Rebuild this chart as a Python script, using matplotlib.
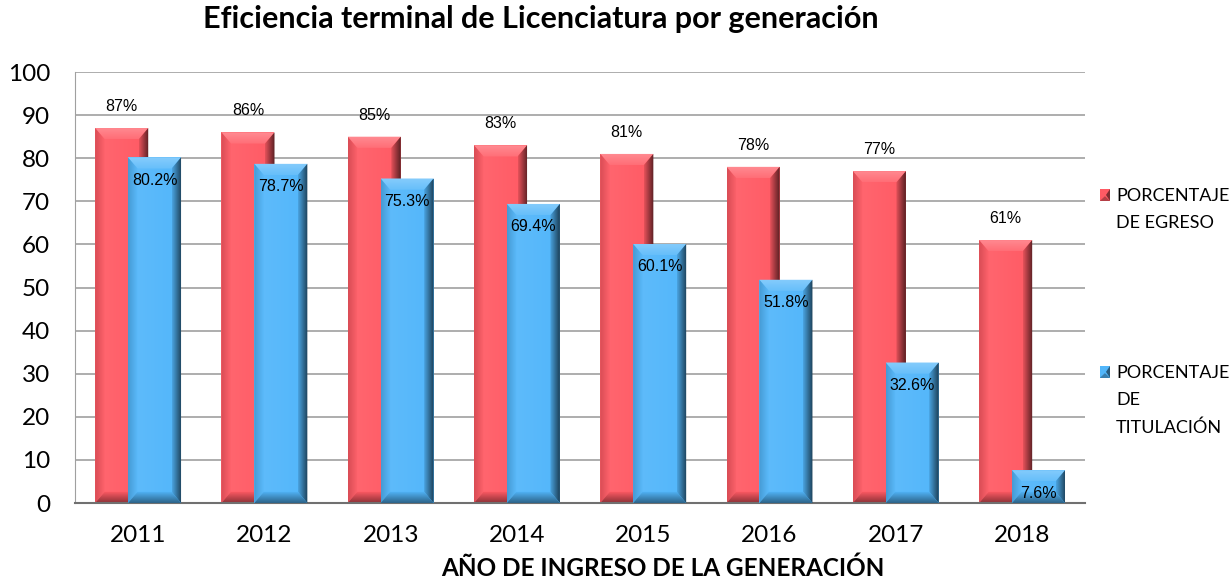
import numpy as np
import matplotlib.pyplot as plt
from matplotlib.colors import LinearSegmentedColormap, to_rgb
from matplotlib.patches import Polygon

years = ['2011', '2012', '2013', '2014', '2015', '2016', '2017', '2018']
egreso = [87, 86, 85, 83, 81, 78, 77, 61]
titulacion = [80.2, 78.7, 75.3, 69.4, 60.1, 51.8, 32.6, 7.6]
egreso_labels = ['87%', '86%', '85%', '83%', '81%', '78%', '77%', '61%']
titulacion_labels = ['80.2%', '78.7%', '75.3%', '69.4%', '60.1%', '51.8%', '32.6%', '7.6%']

red = '#FF5A64'
blue = '#52B6FA'


def mix(c, other, t):
    c = np.array(to_rgb(c))
    o = np.array(to_rgb(other))
    return tuple(c * (1 - t) + o * t)


def grad_patch(ax, poly, extent, c0, c1, vertical, z):
    # gradient from c0 to c1 (left->right or bottom->top), clipped to polygon
    cmap = LinearSegmentedColormap.from_list('g', [c0, c1])
    g = np.linspace(0, 1, 32)
    arr = g.reshape(-1, 1) if vertical else g.reshape(1, -1)
    p = Polygon(poly, closed=True, facecolor='none', edgecolor='none')
    ax.add_patch(p)
    im = ax.imshow(arr, cmap=cmap, extent=extent, aspect='auto', origin='lower',
                   zorder=z, interpolation='bilinear')
    im.set_clip_path(p)


def bevel_bars(ax, bars, color, z):
    bx, by = 0.075, 2.6
    for b in bars:
        x, w, h = b.get_x(), b.get_width(), b.get_height()
        b.set_visible(False)
        bb = min(by, h / 2.5)
        # face
        grad_patch(ax, [(x, 0), (x + w, 0), (x + w, h), (x, h)], (x, x + w, 0, h),
                   mix(color, 'white', 0.08), color, False, z)
        # top bevel
        grad_patch(ax, [(x, h), (x + w, h), (x + w - bx, h - bb), (x + bx, h - bb)],
                   (x, x + w, h - bb, h), mix(color, 'white', 0.12), mix(color, 'white', 0.3), True, z + 0.1)
        # right bevel
        grad_patch(ax, [(x + w, h), (x + w, 0), (x + w - bx, bb), (x + w - bx, h - bb)],
                   (x + w - bx, x + w, 0, h), mix(color, 'black', 0.1), mix(color, 'black', 0.65), False, z + 0.1)
        # left bevel
        grad_patch(ax, [(x, h), (x, 0), (x + bx, bb), (x + bx, h - bb)],
                   (x, x + bx, 0, h), mix(color, 'black', 0.15), mix(color, 'white', 0.05), False, z + 0.1)
        # bottom bevel
        grad_patch(ax, [(x, 0), (x + w, 0), (x + w - bx, bb), (x + bx, bb)],
                   (x, x + w, 0, bb), mix(color, 'black', 0.45), color, True, z + 0.1)


fig = plt.figure(figsize=(12.29, 5.82), dpi=100)
ax = fig.add_axes([0.061, 0.1357, 0.822, 0.7405])

x = np.arange(len(years))
w = 0.42
off = 0.13
b1 = ax.bar(x - off, egreso, w, color=red)
b2 = ax.bar(x + off, titulacion, w, color=blue)
bevel_bars(ax, b1, red, 2)
bevel_bars(ax, b2, blue, 3)

for xi, v, lab in zip(x - off, egreso, egreso_labels):
    ax.text(xi, v + 5, lab, ha='center', va='center', fontsize=11.5,
            family='Liberation Sans', zorder=5)
for xi, v, lab in zip(x + off, titulacion, titulacion_labels):
    ax.text(xi, v - 5.3, lab, ha='center', va='center', fontsize=11.5,
            family='Liberation Sans', zorder=5)

ax.set_xlim(-0.5, 7.5)
ax.set_ylim(0, 100)
ax.set_yticks(range(0, 101, 10))
ax.set_xticks(x)
ax.set_xticklabels(years)
ax.tick_params(axis='both', length=0, labelsize=17.5)
ax.tick_params(axis='x', pad=16)
ax.tick_params(axis='y', pad=18)
for lab in ax.get_xticklabels() + ax.get_yticklabels():
    lab.set_family('Lato')
ax.yaxis.grid(True, color='#A0A0A0', linewidth=1.2)
ax.set_axisbelow(True)
for s in ['top', 'right']:
    ax.spines[s].set_visible(False)
ax.spines['left'].set_color('#A0A0A0')
ax.spines['bottom'].set_color('#707070')
ax.spines['bottom'].set_linewidth(1.5)

fig.text(0.44, 0.968, 'Eficiencia terminal de Licenciatura por generación', ha='center', va='center',
         fontsize=22, fontweight='bold', family='Lato')
fig.text(0.539, 0.024, 'AÑO DE INGRESO DE LA GENERACIÓN', ha='center', va='center',
         fontsize=17.5, fontweight='bold', family='Lato')

# legend
step = 27 / 582
for ypos, col, lines in [(0.665, red, ['PORCENTAJE', 'DE EGRESO']),
                         (0.361, blue, ['PORCENTAJE', 'DE', 'TITULACIÓN'])]:
    lx = fig.add_axes([0.8948, ypos - 0.0105, 0.0085, 0.021])
    lx.set_axis_off()
    lx.set_xlim(0, 1)
    lx.set_ylim(0, 1)
    lx.add_patch(Polygon([(0, 0), (1, 0), (1, 1), (0, 1)], facecolor=col, edgecolor='none'))
    lx.add_patch(Polygon([(1, 1), (1, 0), (0.6, 0.5)], facecolor=mix(col, 'black', 0.5), edgecolor='none'))
    lx.add_patch(Polygon([(0, 0), (1, 0), (0.5, 0.4)], facecolor=mix(col, 'black', 0.3), edgecolor='none'))
    for i, t in enumerate(lines):
        fig.text(0.908, ypos - i * step, t, ha='left', va='center_baseline', fontsize=13,
                 family='Lato')
fig.savefig('out.png', dpi=100)
